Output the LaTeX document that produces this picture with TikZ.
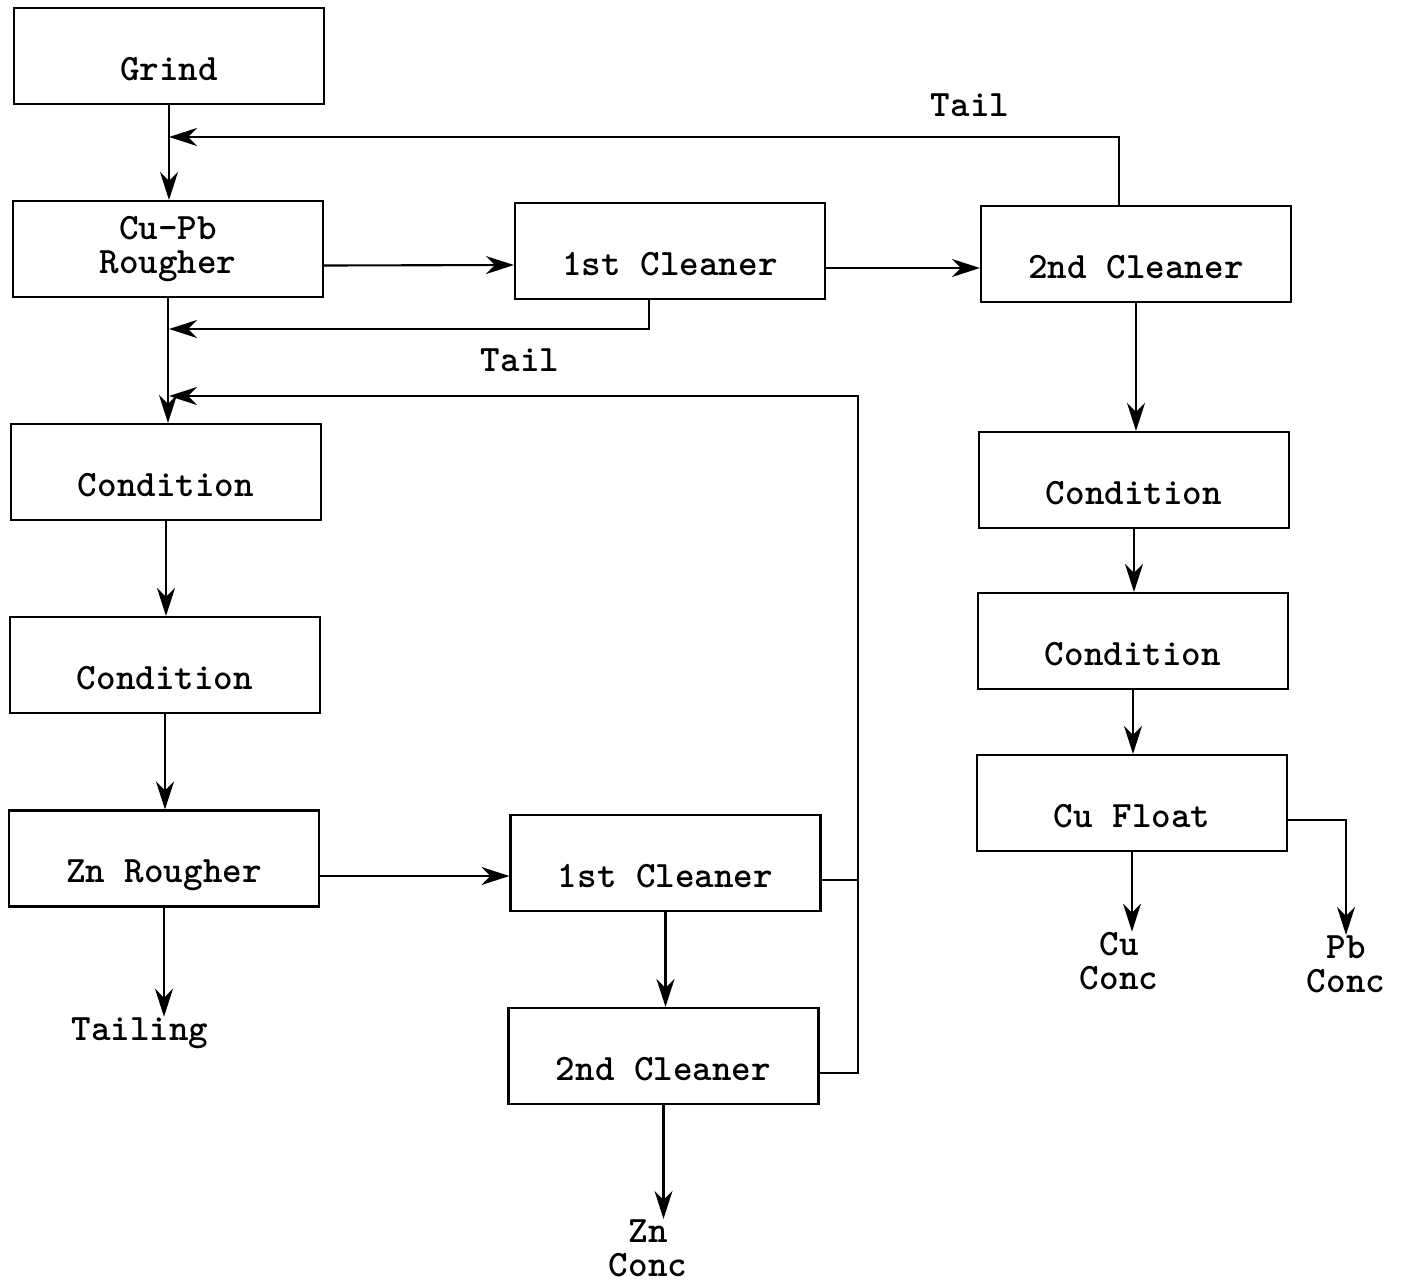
\documentclass[tikz,border=0pt]{standalone}
\usepackage{fontspec}
\usepackage{tikz}
\usetikzlibrary{arrows.meta, calc}
\newcommand{\flowfont}{\fontsize{10.6}{9.6}\selectfont\ttfamily\bfseries}
\tikzset{
	box/.style={draw, semithick, minimum width=3.1cm, minimum height=0.96cm, inner sep=0pt, text height=0.58cm, text depth=0.1cm, font=\flowfont},
	lbl/.style={inner sep=0pt, align=center, font=\flowfont},
	flow/.style={semithick, -{Stealth[length=0.28cm, width=0.18cm, inset=0.09cm]}},
}

\begin{document}
\begin{tikzpicture}
					\useasboundingbox (0,0) rectangle (14.02,-12.81);
					
					\node[box] at (1.69,-0.56) (grind) {Grind};
					\node[box, align=center, text height=, text depth=] at (1.68,-2.49) (cupb) {Cu-Pb\\Rougher};
					\node[box] at (6.70,-2.51) (clean1) {1st Cleaner};
					\node[box] at (11.36,-2.54) (clean2) {2nd Cleaner};
					\node[box] at (1.66,-4.72) (cond1) {Condition};
					\node[box] at (1.65,-6.65) (cond2) {Condition};
					\node[box] at (1.64,-8.585) (znro) {Zn Rougher};
					\node[box] at (6.655,-8.63) (zclean1) {1st Cleaner};
					\node[box] at (6.635,-10.56) (zclean2) {2nd Cleaner};
					\node[box] at (11.34,-4.80) (cond3) {Condition};
					\node[box] at (11.33,-6.41) (cond4) {Condition};
					\node[box] at (11.32,-8.03) (cufloat) {Cu Float};
					
					\node[lbl] at (9.70,-1.05) (tailtop) {Tail};
					\node[lbl] at (5.20,-3.60) (tailmid) {Tail};
					\node[lbl] at (1.40,-10.33) (tailing) {Tailing};
					\node[lbl] at (6.48,-12.48) (znconc) {Zn\\Conc};
					\node[lbl] at (11.19,-9.61) (cuconc) {Cu\\Conc};
					\node[lbl] at (13.46,-9.64) (pbconc) {Pb\\Conc};
					
					\coordinate (m1) at (1.69,-1.37);
					\coordinate (m2) at (1.69,-3.29);
					\coordinate (m3) at (1.69,-3.96);
					\coordinate (r) at (8.58,-3.96);
					
					\draw[flow] (grind.south) -- (grind.south |- cupb.north);
					\draw[flow] (cupb.south) -- (cupb.south |- cond1.north);
					\draw[flow] (cond1.south) -- (cond1.south |- cond2.north);
					\draw[flow] (cond2.south) -- (cond2.south |- znro.north);
					\draw[flow] (znro.south) -- (znro.south |- tailing.north);
					\draw[flow] ([yshift=-0.165cm]cupb.east) -- ([yshift=-0.14cm]clean1.west);
					\draw[flow] ([yshift=-0.17cm]clean1.east) -- ([yshift=-0.14cm]clean2.west);
					\draw[flow] ([yshift=-0.175cm]znro.east) -- ([yshift=-0.13cm]zclean1.west);
					\draw[flow] (zclean1.south) -- (zclean1.south |- zclean2.north);
					\draw[flow] (zclean2.south) -- (zclean2.south |- znconc.north);
					\draw[flow] (clean2.south) -- (clean2.south |- cond3.north);
					\draw[flow] (cond3.south) -- (cond3.south |- cond4.north);
					\draw[flow] (cond4.south) -- (cond4.south |- cufloat.north);
					\draw[flow] (cufloat.south) -- (cufloat.south |- cuconc.north);
					\draw[flow] ([yshift=-0.17cm]cufloat.east) -| (pbconc.north);
					
					\draw[flow] ([xshift=-0.17cm]clean2.north) |- (m1);
					\draw[flow] ([xshift=-0.21cm]clean1.south) |- (m2);
					\draw[flow] ([yshift=-0.17cm]zclean2.east) -| (r) -- (m3);
					\draw[semithick] ([yshift=-0.17cm]zclean1.east) -| (r);
				\end{tikzpicture}
\end{document}
